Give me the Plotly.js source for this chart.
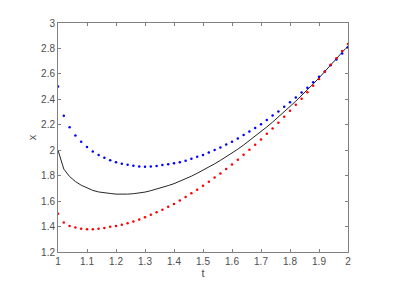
<!DOCTYPE html>
<html>
<head>
<meta charset="utf-8">
<script src="https://cdn.plot.ly/plotly-3.0.1.min.js"></script>
<style>html,body{margin:0;padding:0;background:#fff;}#chart{width:395px;height:285px;}</style>
</head>
<body>
<div id="chart"></div>
<script>
const t = [1.00,1.02,1.04,1.06,1.08,1.10,1.12,1.14,1.16,1.18,1.20,1.22,1.24,1.26,1.28,1.30,1.32,1.34,1.36,1.38,1.40,1.42,1.44,1.46,1.48,1.50,1.52,1.54,1.56,1.58,1.60,1.62,1.64,1.66,1.68,1.70,1.72,1.74,1.76,1.78,1.80,1.82,1.84,1.86,1.88,1.90,1.92,1.94,1.96,1.98,2.00];
const upper = [2.50,2.27,2.18,2.116,2.067,2.025,1.99,1.962,1.94,1.922,1.906,1.894,1.885,1.877,1.872,1.870,1.872,1.876,1.883,1.889,1.897,1.906,1.918,1.932,1.948,1.963,1.982,2.002,2.022,2.044,2.067,2.092,2.119,2.147,2.175,2.205,2.238,2.272,2.305,2.341,2.378,2.415,2.453,2.492,2.535,2.577,2.618,2.667,2.714,2.761,2.808];
const lower = [1.50,1.431,1.405,1.392,1.382,1.378,1.378,1.382,1.389,1.398,1.404,1.414,1.426,1.439,1.456,1.473,1.492,1.512,1.533,1.555,1.578,1.604,1.632,1.661,1.690,1.721,1.753,1.785,1.818,1.852,1.888,1.925,1.964,2.003,2.043,2.085,2.129,2.171,2.216,2.263,2.310,2.357,2.405,2.456,2.507,2.559,2.616,2.671,2.723,2.779,2.834];
const xsol = [2.00,1.852,1.793,1.754,1.725,1.702,1.684,1.672,1.664,1.66,1.655,1.654,1.655,1.658,1.664,1.671,1.682,1.694,1.708,1.722,1.737,1.755,1.775,1.796,1.819,1.842,1.867,1.893,1.92,1.948,1.977,2.008,2.041,2.075,2.109,2.145,2.183,2.221,2.26,2.302,2.344,2.386,2.429,2.474,2.521,2.568,2.617,2.669,2.718,2.77,2.821];
const xTicks = [1,1.1,1.2,1.3,1.4,1.5,1.6,1.7,1.8,1.9,2];
const xTickText = ['1','1.1','1.2','1.3','1.4','1.5','1.6','1.7','1.8','1.9','2'];
const yTicks = [1.2,1.4,1.6,1.8,2,2.2,2.4,2.6,2.8,3];
const yTickText = ['1.2','1.4','1.6','1.8','2','2.2','2.4','2.6','2.8','3'];

const traces = [
  {x: t, y: xsol, mode: 'lines', line: {color: '#262626', width: 1}, hoverinfo: 'skip'},
  {x: t, y: upper, mode: 'markers', marker: {color: '#0000ff', size: 2.5}},
  {x: t, y: lower, mode: 'markers', marker: {color: '#ff0000', size: 2.5}}
];
const axisCommon = {
  showgrid: false, zeroline: false, showline: true, mirror: 'ticks',
  linecolor: '#808080', linewidth: 1, ticks: 'inside', ticklen: 3, tickcolor: '#808080',
  tickfont: {family: 'Liberation Sans, Arial, sans-serif', size: 10, color: '#4d4d4d'}
};
const layout = {
  width: 395, height: 285,
  margin: {l: 58, r: 47, t: 23, b: 33},
  paper_bgcolor: '#ffffff', plot_bgcolor: '#ffffff',
  showlegend: false,
  xaxis: Object.assign({}, axisCommon, {
    range: [1, 2], tickvals: xTicks, ticktext: xTickText,
    title: {text: 't', standoff: 3, font: {family: 'Liberation Sans, Arial, sans-serif', size: 11, color: '#4d4d4d'}}
  }),
  yaxis: Object.assign({}, axisCommon, {
    range: [1.2, 3], tickvals: yTicks, ticktext: yTickText,
    title: {text: 'x', standoff: 2, font: {family: 'Liberation Sans, Arial, sans-serif', size: 11, color: '#4d4d4d'}}
  })
};
Plotly.newPlot('chart', traces, layout, {staticPlot: true, displayModeBar: false});
</script>
</body>
</html>
